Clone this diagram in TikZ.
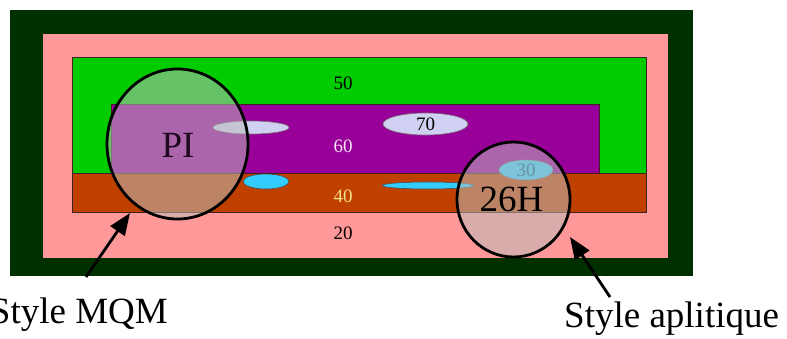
\documentclass[tikz,border=0pt]{standalone}
\usepackage{fontspec}
\setmainfont{Liberation Serif}
\usetikzlibrary{arrows.meta,shapes.geometric}

\definecolor{darkframe}{HTML}{003000}
\definecolor{rose}{HTML}{FF9999}
\definecolor{grass}{HTML}{00CC00}
\definecolor{plum}{HTML}{990099}
\definecolor{rust}{HTML}{C04000}
\definecolor{lilac}{HTML}{D0D0F2}
\definecolor{sky}{HTML}{33CCFF}
\definecolor{sand}{HTML}{F2E08A}
\definecolor{pale}{HTML}{F4E6F4}
\definecolor{teal30}{HTML}{006680}
\definecolor{edge}{HTML}{402020}
\definecolor{lensgray}{HTML}{BCBCBC}

\begin{document}
\begin{tikzpicture}[
  x=1pt, y=-1pt,
  layer/.style={draw=edge, line width=0.8pt},
  num/.style={font=\fontsize{19}{19}\selectfont, inner sep=0pt},
  blob/.style={ellipse, draw=black!55, line width=0.6pt, inner sep=0pt},
  lens/.style={ellipse, draw=black, line width=2.8pt, fill=lensgray,
               fill opacity=0.54, text opacity=1, inner sep=0pt},
  big/.style={font=\fontsize{37}{37}\selectfont, inner sep=0pt},
  arr/.style={-{Triangle[length=22pt,width=17pt]}, line width=2.8pt}
]
\useasboundingbox (0,0) rectangle (787,338);

% nested zones
\fill[darkframe] (10,10) rectangle (693,276);
\fill[rose] (43,34) rectangle (668,258);
\filldraw[layer, fill=grass] (72,57) rectangle (646,173);
\filldraw[layer, fill=plum] (111,104) rectangle (599,173);
\filldraw[layer, fill=rust] (72,173) rectangle (646,212);

\node[num] (l50) at (343,83) {50};
\node[num, text=pale] (l60) at (343,146) {60};
\node[num, text=sand] (l40) at (343,196) {40};
\node[num] (l20) at (343,233) {20};

% lenses
\node[blob, fill=lilac, minimum width=76pt, minimum height=13pt] (e1) at (251,127.5) {};
\node[blob, fill=lilac, minimum width=85pt, minimum height=22pt, font=\fontsize{19}{19}\selectfont] (e70) at (425.5,124) {70};
\node[blob, fill=sky, draw=black!70, minimum width=46pt, minimum height=15pt] (e2) at (266,181.5) {};
\node[blob, fill=sky, draw=black!70, minimum width=92pt, minimum height=7pt] (e3) at (428,185.5) {};
\node[blob, fill=sky, minimum width=54pt, minimum height=20pt, text=teal30, font=\fontsize{19}{19}\selectfont] (e30) at (526,170) {30};

% magnifier circles
\node[lens, minimum width=141pt, minimum height=150pt] (pi) at (177.5,144) {};
\node[lens, minimum width=113pt, minimum height=115pt] (h26) at (513.5,199.5) {};
\node[big, text={rgb,255:red,32;green,8;blue,32}] (pitxt) at (178,145.5) {PI};
\node[big] (htxt) at (511.5,199.5) {26H};

% captions
\node[big, anchor=base east] (mqm) at (168,323) {Style MQM};
\node[big, anchor=base west] (apl) at (564,327) {Style aplitique};
\coordinate (mqmtail) at (86,277);
\coordinate (mqmtip) at (130,213);
\coordinate (apltail) at (610,297);
\coordinate (apltip) at (570,237);
\draw[arr] (mqmtail) -- (mqmtip);
\draw[arr] (apltail) -- (apltip);
\end{tikzpicture}
\end{document}
